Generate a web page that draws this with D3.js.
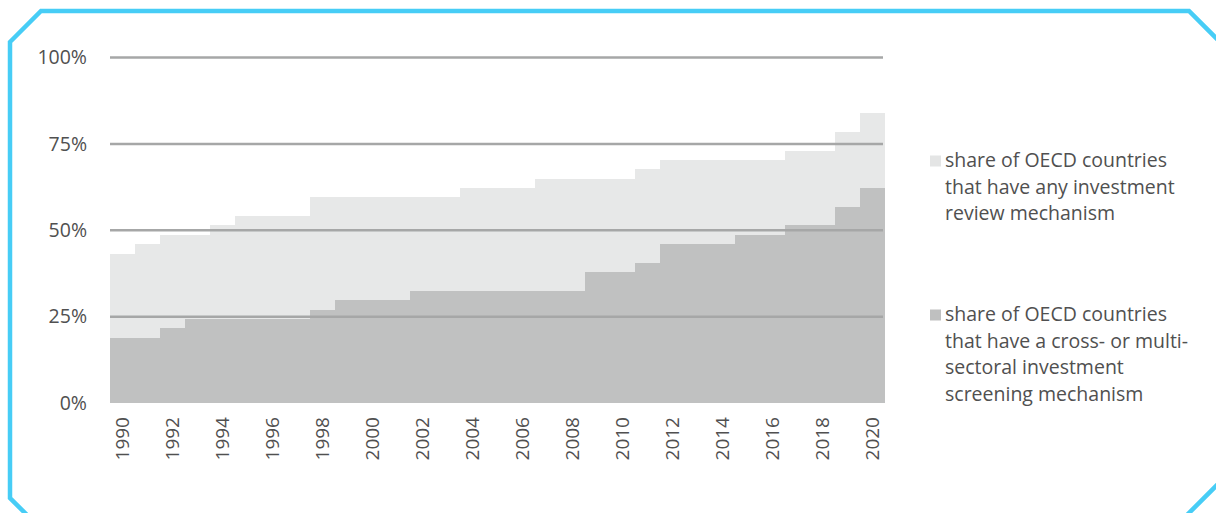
<!DOCTYPE html>
<html>
<head>
<meta charset="utf-8">
<script src="https://cdn.jsdelivr.net/npm/d3@7"></script>
<style>
  body { margin: 0; background: #fff; }
  text { font-family: "Open Sans", sans-serif; fill: #505050; }
</style>
</head>
<body>
<div id="chart"></div>
<script>
// years on the x axis
var years = [1990, 1991, 1992, 1993, 1994, 1995, 1996, 1997, 1998, 1999,
             2000, 2001, 2002, 2003, 2004, 2005, 2006, 2007, 2008, 2009,
             2010, 2011, 2012, 2013, 2014, 2015, 2016, 2017, 2018, 2019, 2020];

// share (%) of OECD countries with any investment review mechanism
var anyReview = [43.2, 45.9, 48.6, 48.6, 51.4, 54.1, 54.1, 54.1, 59.5, 59.5,
                 59.5, 59.5, 59.5, 59.5, 62.2, 62.2, 62.2, 64.9, 64.9, 64.9,
                 64.9, 67.6, 70.3, 70.3, 70.3, 70.3, 70.3, 73.0, 73.0, 78.4, 83.8];

// share (%) with a cross- or multi-sectoral screening mechanism
var crossSectoral = [18.9, 18.9, 21.6, 24.3, 24.3, 24.3, 24.3, 24.3, 27.0, 29.7,
                     29.7, 29.7, 32.4, 32.4, 32.4, 32.4, 32.4, 32.4, 32.4, 37.8,
                     37.8, 40.5, 45.9, 45.9, 45.9, 48.6, 48.6, 51.4, 51.4, 56.8, 62.2];

var yTicks = [0, 25, 50, 75, 100];
var xTicks = [1990, 1992, 1994, 1996, 1998, 2000, 2002, 2004, 2006, 2008,
              2010, 2012, 2014, 2016, 2018, 2020];

var legendItems = [
  { lines: ["share of OECD countries", "that have any investment", "review mechanism"], color: "#e4e5e5" },
  { lines: ["share of OECD countries", "that have a cross- or multi-", "sectoral investment", "screening mechanism"], color: "#bfc0c0" }
];

var W = 1216, H = 513;

var svg = d3.select("#chart")
    .append("svg")
    .attr("width", W)
    .attr("height", H);

// cyan frame with cut corners
svg.append("path")
    .attr("d", "M10,42 L41,11 L1189,11 L1222,44 L1222,480 L1186,516 L42,530 L10,498 Z")
    .attr("fill", "none")
    .attr("stroke", "#47cdf6")
    .attr("stroke-width", 4.5);

var x = d3.scaleBand()
    .domain(years)
    .range([110, 885])
    .padding(0);

var y = d3.scaleLinear()
    .domain([0, 100])
    .range([403, 57.5]);

var data = years.map(function (yr, i) {
  return { year: yr, any: anyReview[i], cross: crossSectoral[i] };
});

// light series (any review mechanism)
svg.append("g")
    .selectAll("rect")
    .data(data)
    .enter()
    .append("rect")
    .attr("x", function (d) { return x(d.year); })
    .attr("width", x.bandwidth())
    .attr("y", function (d) { return y(d.any); })
    .attr("height", function (d) { return y(0) - y(d.any); })
    .attr("fill", "#e7e8e8")
    .attr("shape-rendering", "crispEdges");

// darker series (cross-sectoral screening)
svg.append("g")
    .selectAll("rect")
    .data(data)
    .enter()
    .append("rect")
    .attr("x", function (d) { return x(d.year); })
    .attr("width", x.bandwidth())
    .attr("y", function (d) { return y(d.cross); })
    .attr("height", function (d) { return y(0) - y(d.cross); })
    .attr("fill", "#c0c1c1")
    .attr("shape-rendering", "crispEdges");

// gridlines on top of the areas
svg.append("g")
    .selectAll("line")
    .data(yTicks.filter(function (t) { return t > 0; }))
    .enter()
    .append("line")
    .attr("x1", 110)
    .attr("x2", 883)
    .attr("y1", function (d) { return y(d); })
    .attr("y2", function (d) { return y(d); })
    .attr("stroke", "#a6a7a7")
    .attr("stroke-width", 2.5);

// y axis labels
var yAxis = d3.axisLeft(y)
    .tickValues(yTicks)
    .tickSize(0)
    .tickPadding(0)
    .tickFormat(function (d) { return d + "%"; });

var gy = svg.append("g")
    .attr("transform", "translate(87,0)")
    .call(yAxis);
gy.select(".domain").remove();
gy.selectAll("text")
    .attr("font-size", "19.5px")
    .attr("font-family", "Open Sans")
    .attr("fill", "#505050");

// x axis labels, rotated
var xAxis = d3.axisBottom(x)
    .tickValues(xTicks)
    .tickSize(0)
    .tickPadding(0);

var gx = svg.append("g")
    .attr("transform", "translate(0,403)")
    .call(xAxis);
gx.select(".domain").remove();
gx.selectAll("text")
    .attr("font-size", "19px")
    .attr("font-family", "Open Sans")
    .attr("fill", "#505050")
    .attr("transform", "rotate(-90)")
    .attr("x", -14)
    .attr("y", 0)
    .attr("dy", "0.35em")
    .style("text-anchor", "end");

// legend
var legendTop = [161, 315];
var legend = svg.append("g");
legendItems.forEach(function (item, i) {
  var g = legend.append("g").attr("transform", "translate(930," + legendTop[i] + ")");
  g.append("rect")
      .attr("x", 0)
      .attr("y", -5.5)
      .attr("width", 11)
      .attr("height", 11)
      .attr("fill", item.color);
  g.selectAll("text")
      .data(item.lines)
      .enter()
      .append("text")
      .attr("x", 15)
      .attr("y", function (d, j) { return j * 26.7 + 6; })
      .attr("font-size", "19.5px")
      .text(function (d) { return d; });
});
</script>
</body>
</html>
